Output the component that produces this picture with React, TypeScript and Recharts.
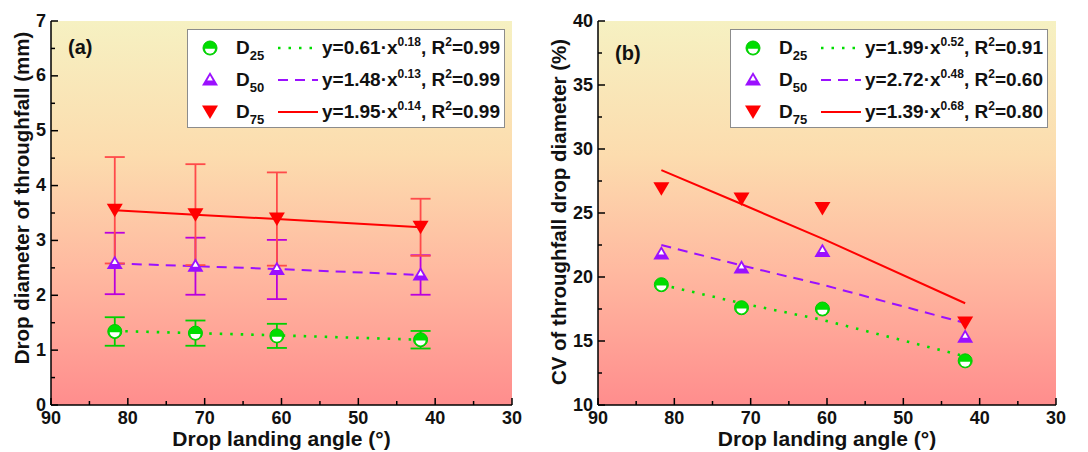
import { CartesianGrid, ComposedChart, ErrorBar, Line, Scatter, XAxis, YAxis } from "recharts"

const FONT = "Arial, 'Liberation Sans', Helvetica, sans-serif"

// drop landing angle (deg) of the four sampling positions
const angles = [81.7, 71.2, 60.6, 41.9]
const angleTicks = [30, 35, 40, 45, 50, 55, 60, 65, 70, 75, 80, 85, 90]

// (a) drop diameter of throughfall (mm), mean and sd
const d25Size = [1.34, 1.31, 1.26, 1.19]
const d25SizeSd = [0.26, 0.23, 0.22, 0.16]
const d50Size = [2.58, 2.53, 2.47, 2.37]
const d50SizeSd = [0.56, 0.52, 0.54, 0.36]
const d75Size = [3.55, 3.47, 3.39, 3.24]
const d75SizeSd = [0.97, 0.92, 0.85, 0.52]
const d25SizeFit = [1.35, 1.31, 1.27, 1.19]
const d50SizeFit = [2.58, 2.53, 2.48, 2.37]
const d75SizeFit = [3.55, 3.47, 3.39, 3.24]
const sizeTicks = [0, 0.5, 1, 1.5, 2, 2.5, 3, 3.5, 4, 4.5, 5, 5.5, 6, 6.5, 7]
const sizeEq = [
  ["0.61", "0.18", "0.99"],
  ["1.48", "0.13", "0.99"],
  ["1.95", "0.14", "0.99"],
]

// (b) CV of throughfall drop diameter (%)
const d25Cv = [19.4, 17.6, 17.5, 13.45]
const d50Cv = [21.8, 20.7, 22.0, 15.3]
const d75Cv = [26.9, 26.1, 25.35, 16.4]
const d25CvFit = [19.4, 17.95, 16.65, 13.8]
const d50CvFit = [22.5, 20.9, 19.4, 16.4]
const d75CvFit = [28.35, 25.7, 23.0, 17.95]
const cvTicks = [10, 12.5, 15, 17.5, 20, 22.5, 25, 27.5, 30, 32.5, 35, 37.5, 40]
const cvEq = [
  ["1.99", "0.52", "0.91"],
  ["2.72", "0.48", "0.60"],
  ["1.39", "0.68", "0.80"],
]

const seriesNames = ["25", "50", "75"]

const W = 544
const H = 452
const TOP = 21
const BOTTOM = 405
const RIGHT = 512

const GREEN = "#00dd00"
const PURPLE = "#9b10ff"
const RED = "#ff0000"

const circleMark = (cx: number, cy: number) => (
  <g>
    <circle cx={cx} cy={cy} r={7} fill={GREEN} stroke="#00c800" strokeWidth={1} />
    <path d={`M${cx - 5},${cy + 0.8} L${cx + 5},${cy + 0.8} A5,5 0 0 1 ${cx - 5},${cy + 0.8} Z`} fill="#fff" />
  </g>
)

const triUpMark = (cx: number, cy: number) => (
  <g>
    <polygon points={`${cx},${cy - 8} ${cx + 8},${cy + 5.5} ${cx - 8},${cy + 5.5}`} fill={PURPLE} />
    <polygon points={`${cx},${cy - 4.5} ${cx + 2.8},${cy + 0.5} ${cx - 2.8},${cy + 0.5}`} fill="#fff" />
  </g>
)

const triDownMark = (cx: number, cy: number) => (
  <polygon points={`${cx - 8},${cy - 6.5} ${cx + 8},${cy - 6.5} ${cx},${cy + 7}`} fill={RED} />
)

const STYLES = [
  { mark: circleMark, color: GREEN, err: "#00d000", dash: "2.5 8", width: 2.6 },
  { mark: triUpMark, color: PURPLE, err: "#bb00dd", dash: "10 7", width: 2 },
  { mark: triDownMark, color: RED, err: "#ff4a4a", dash: undefined, width: 2 },
]

const axisLine = { stroke: "#000", strokeWidth: 1.5 }

type PanelProps = {
  left: number
  plotLeft: number
  values: number[][]
  sds?: number[][]
  fits: number[][]
  domain: [number, number]
  ticks: number[]
  major: number
  yTitle: string
  yTitleX: number
  yTitleY: number
  tag: string
  tagY: number
  eqs: string[][]
  legendLeft: number
}

function LegendBox({ left, eqs }: { left: number; eqs: string[][] }) {
  return (
    <div
      style={{
        position: "absolute",
        left,
        top: 29,
        width: 316,
        height: 97,
        background: "#fff",
        border: "1px solid #8c8c8c",
        fontFamily: FONT,
        fontWeight: "bold",
        fontSize: 19,
        color: "#111",
      }}
    >
      {STYLES.map((s, i) => {
        const cy = 18 + i * 32
        return (
          <div key={i}>
            <svg style={{ position: "absolute", left: 12, top: cy - 10 }} width={20} height={20}>
              {s.mark(10, 10)}
            </svg>
            <div style={{ position: "absolute", left: 48, top: cy - 10, lineHeight: "20px", whiteSpace: "nowrap" }}>
              D<span style={{ fontSize: 13, position: "relative", top: 6 }}>{seriesNames[i]}</span>
            </div>
            <svg style={{ position: "absolute", left: 90, top: cy - 2 }} width={40} height={4}>
              <line x1={0} x2={40} y1={2} y2={2} stroke={s.color} strokeWidth={s.width} strokeDasharray={s.dash} />
            </svg>
            <div style={{ position: "absolute", left: 134, top: cy - 10, lineHeight: "20px", whiteSpace: "nowrap" }}>
              y={eqs[i][0]}·x<span style={{ fontSize: 12, position: "relative", top: -8 }}>{eqs[i][1]}</span>, R
              <span style={{ fontSize: 12, position: "relative", top: -8 }}>2</span>={eqs[i][2]}
            </div>
          </div>
        )
      })}
    </div>
  )
}

function Panel(p: PanelProps) {
  const bottomTick = (t: any) => {
    const v = t.payload.value
    const isMajor = v % 10 === 0
    return (
      <g>
        <line x1={t.x} x2={t.x} y1={BOTTOM} y2={BOTTOM - (isMajor ? 7 : 4)} stroke="#000" strokeWidth={1.5} />
        {isMajor && (
          <text x={t.x} y={BOTTOM + 19} textAnchor="middle" fontFamily={FONT} fontWeight="bold" fontSize={18} fill="#111">
            {v}
          </text>
        )}
      </g>
    )
  }
  const topTick = (t: any) => {
    const isMajor = t.payload.value % 10 === 0
    return <line x1={t.x} x2={t.x} y1={TOP} y2={TOP + (isMajor ? 7 : 4)} stroke="#000" strokeWidth={1.5} />
  }
  const leftTick = (t: any) => {
    const v = t.payload.value
    const isMajor = v % p.major === 0
    return (
      <g>
        <line x1={p.plotLeft} x2={p.plotLeft + (isMajor ? 7 : 4)} y1={t.y} y2={t.y} stroke="#000" strokeWidth={1.5} />
        {isMajor && (
          <text x={p.plotLeft - 5} y={t.y + 5.5} textAnchor="end" fontFamily={FONT} fontWeight="bold" fontSize={18} fill="#111">
            {v}
          </text>
        )}
      </g>
    )
  }
  const rightTick = (t: any) => {
    const isMajor = t.payload.value % p.major === 0
    return <line x1={RIGHT} x2={RIGHT - (isMajor ? 7 : 4)} y1={t.y} y2={t.y} stroke="#000" strokeWidth={1.5} />
  }
  const xTitle = () => (
    <text x={(p.plotLeft + RIGHT) / 2} y={446} textAnchor="middle" fontFamily={FONT} fontWeight="bold" fontSize={21} fill="#111">
      Drop landing angle (°)
    </text>
  )
  const yTitle = () => (
    <text
      x={p.yTitleX}
      y={p.yTitleY}
      dy="0.36em"
      transform={`rotate(-90 ${p.yTitleX} ${p.yTitleY})`}
      textAnchor="middle"
      fontFamily={FONT}
      fontWeight="bold"
      fontSize={20.5}
      fill="#111"
    >
      {p.yTitle}
    </text>
  )

  return (
    <div style={{ position: "absolute", left: p.left, top: 0, width: W, height: H }}>
      <ComposedChart width={W} height={H} margin={{ top: TOP, right: W - RIGHT, bottom: 0, left: 0 }}>
        <CartesianGrid horizontal={false} vertical={false} fill="url(#bgGrad)" fillOpacity={1} stroke="none" />
        <XAxis
          dataKey="x"
          type="number"
          domain={[30, 90]}
          reversed
          allowDataOverflow
          ticks={angleTicks}
          interval={0}
          height={H - BOTTOM}
          axisLine={axisLine}
          tickLine={false}
          tick={bottomTick}
          label={{ content: xTitle }}
        />
        <XAxis
          xAxisId="top"
          orientation="top"
          type="number"
          domain={[30, 90]}
          reversed
          allowDataOverflow
          ticks={angleTicks}
          interval={0}
          height={0}
          axisLine={axisLine}
          tickLine={false}
          tick={topTick}
        />
        <YAxis
          dataKey="y"
          type="number"
          domain={p.domain}
          allowDataOverflow
          ticks={p.ticks}
          interval={0}
          width={p.plotLeft}
          axisLine={axisLine}
          tickLine={false}
          tick={leftTick}
          label={{ content: yTitle }}
        />
        <YAxis
          yAxisId="right"
          orientation="right"
          type="number"
          domain={p.domain}
          allowDataOverflow
          ticks={p.ticks}
          interval={0}
          width={0}
          axisLine={axisLine}
          tickLine={false}
          tick={rightTick}
        />
        {STYLES.map((s, i) => (
          <Line
            key={`fit${i}`}
            data={angles.map((a, j) => ({ x: a, y: p.fits[i][j] }))}
            dataKey="y"
            type="linear"
            stroke={s.color}
            strokeWidth={s.width}
            strokeDasharray={s.dash}
            dot={false}
            activeDot={false}
            isAnimationActive={false}
          />
        ))}
        {STYLES.map((s, i) => (
          <Scatter
            key={`pts${i}`}
            data={angles.map((a, j) => ({ x: a, y: p.values[i][j], sd: p.sds ? p.sds[i][j] : 0 }))}
            shape={(d: any) => s.mark(d.cx, d.cy)}
            isAnimationActive={false}
          >
            {p.sds && <ErrorBar dataKey="sd" direction="y" width={10} stroke={s.err} strokeWidth={1.8} />}
          </Scatter>
        ))}
      </ComposedChart>
      <LegendBox left={p.legendLeft} eqs={p.eqs} />
      <div
        style={{
          position: "absolute",
          left: p.plotLeft + 17,
          top: p.tagY - 12,
          fontFamily: FONT,
          fontWeight: "bold",
          fontSize: 20,
          lineHeight: "24px",
          color: "#111",
        }}
      >
        {p.tag}
      </div>
    </div>
  )
}

export default function App() {
  return (
    <div style={{ position: "absolute", left: 0, top: 0, width: 1088, height: 452, background: "#fff", overflow: "hidden" }}>
      <svg width={0} height={0} style={{ position: "absolute" }}>
        <defs>
          <linearGradient id="bgGrad" x1="0" y1="0" x2="0" y2="1">
            <stop offset="0%" stopColor="#f6f1c2" />
            <stop offset="35%" stopColor="#fcdcae" />
            <stop offset="65%" stopColor="#ffb9a0" />
            <stop offset="100%" stopColor="#ff8d8d" />
          </linearGradient>
        </defs>
      </svg>
      <Panel
        left={0}
        plotLeft={51}
        values={[d25Size, d50Size, d75Size]}
        sds={[d25SizeSd, d50SizeSd, d75SizeSd]}
        fits={[d25SizeFit, d50SizeFit, d75SizeFit]}
        domain={[0, 7]}
        ticks={sizeTicks}
        major={1}
        yTitle="Drop diameter of throughfall (mm)"
        yTitleX={22}
        yTitleY={198}
        tag="(a)"
        tagY={47}
        eqs={sizeEq}
        legendLeft={187}
      />
      <Panel
        left={544}
        plotLeft={54}
        values={[d25Cv, d50Cv, d75Cv]}
        fits={[d25CvFit, d50CvFit, d75CvFit]}
        domain={[10, 40]}
        ticks={cvTicks}
        major={5}
        yTitle="CV of throughfall drop diameter (%)"
        yTitleX={15}
        yTitleY={212}
        tag="(b)"
        tagY={53}
        eqs={cvEq}
        legendLeft={186}
      />
    </div>
  )
}
